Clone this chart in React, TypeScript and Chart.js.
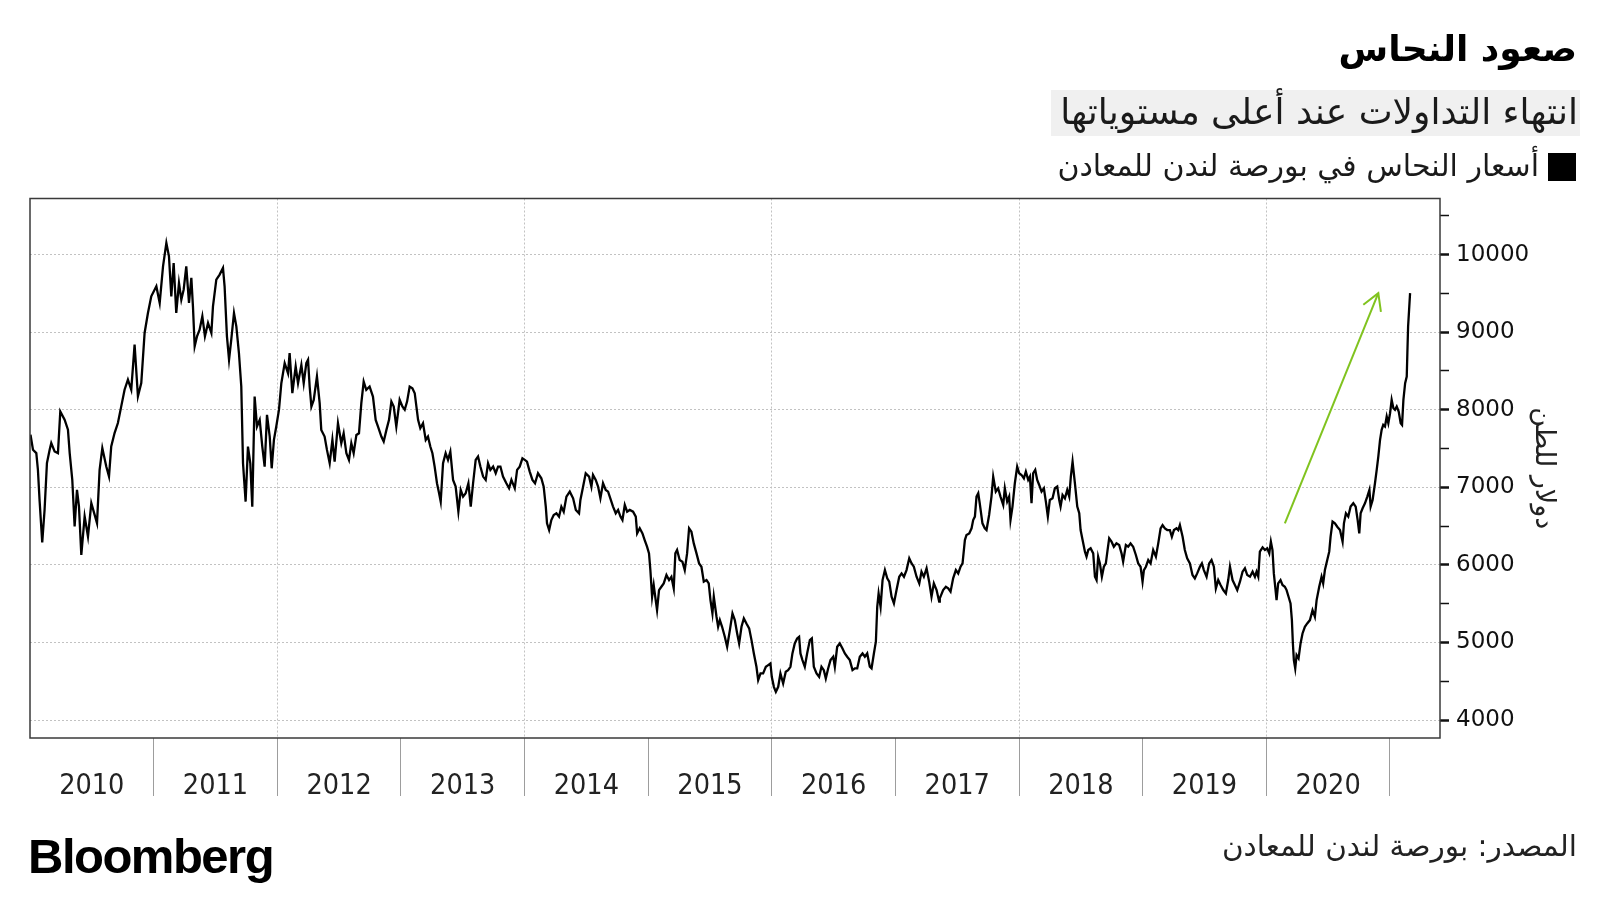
import React, { useEffect, useRef } from 'react';
import { Chart, registerables } from 'chart.js';

Chart.register(...registerables);

// ---- Data (LME copper, USD per tonne), x in decimal years ----
const dates = [
  2010.004, 2010.024, 2010.051, 2010.064, 2010.078, 2010.099, 2010.118, 2010.137, 2010.159, 2010.172,
  2010.199, 2010.226, 2010.245, 2010.280, 2010.307, 2010.321, 2010.342, 2010.361, 2010.380, 2010.396,
  2010.415, 2010.442, 2010.469, 2010.496, 2010.523, 2010.542, 2010.563, 2010.585, 2010.617, 2010.639,
  2010.657, 2010.684, 2010.711, 2010.738, 2010.765, 2010.792, 2010.819, 2010.846, 2010.873, 2010.900,
  2010.927, 2010.954, 2010.981, 2011.022, 2011.049, 2011.076, 2011.103, 2011.124, 2011.143, 2011.162,
  2011.183, 2011.205, 2011.224, 2011.243, 2011.264, 2011.286, 2011.305, 2011.318, 2011.332, 2011.351,
  2011.372, 2011.394, 2011.415, 2011.440, 2011.467, 2011.480, 2011.507, 2011.534, 2011.561, 2011.574,
  2011.593, 2011.610, 2011.628, 2011.650, 2011.669, 2011.690,
  2011.709, 2011.723, 2011.744, 2011.763, 2011.782, 2011.798, 2011.817, 2011.836, 2011.858, 2011.879,
  2011.898, 2011.917, 2011.939, 2011.955, 2011.973, 2011.992, 2012.014, 2012.033, 2012.060, 2012.087,
  2012.100, 2012.122, 2012.149, 2012.168, 2012.195, 2012.214, 2012.235, 2012.249, 2012.262, 2012.276,
  2012.295, 2012.321, 2012.343, 2012.356, 2012.383, 2012.402, 2012.424, 2012.446, 2012.464, 2012.491,
  2012.518, 2012.537, 2012.559, 2012.580, 2012.599, 2012.618, 2012.640, 2012.661, 2012.680, 2012.699,
  2012.720, 2012.747, 2012.774, 2012.796, 2012.815, 2012.842, 2012.861, 2012.883, 2012.904, 2012.923,
  2012.942, 2012.963, 2012.990, 2013.012, 2013.031, 2013.050, 2013.071, 2013.093, 2013.112, 2013.139,
  2013.157, 2013.179, 2013.201, 2013.219, 2013.238, 2013.255, 2013.273, 2013.292, 2013.309, 2013.322,
  2013.341, 2013.362, 2013.381, 2013.400, 2013.422, 2013.443, 2013.465, 2013.484, 2013.503, 2013.524,
  2013.546, 2013.565, 2013.584, 2013.605, 2013.624, 2013.643, 2013.665, 2013.686, 2013.705, 2013.724,
  2013.746, 2013.767, 2013.786, 2013.805, 2013.826, 2013.853, 2013.875, 2013.894, 2013.921, 2013.940,
  2013.961, 2013.983, 2014.002, 2014.020, 2014.042, 2014.064, 2014.085, 2014.109, 2014.136, 2014.155,
  2014.172, 2014.182, 2014.199, 2014.217, 2014.236, 2014.258, 2014.279, 2014.298, 2014.317, 2014.339,
  2014.366, 2014.393, 2014.415, 2014.441,
  2014.452, 2014.474, 2014.495, 2014.522, 2014.541, 2014.554, 2014.576, 2014.595, 2014.614, 2014.635,
  2014.657, 2014.676, 2014.694, 2014.716, 2014.738, 2014.757, 2014.776, 2014.792, 2014.811, 2014.830,
  2014.851, 2014.878, 2014.900, 2014.911, 2014.932, 2014.954, 2014.972, 2014.991, 2015.007, 2015.018,
  2015.032, 2015.045, 2015.061, 2015.072, 2015.088, 2015.107, 2015.126, 2015.148, 2015.169, 2015.188,
  2015.207, 2015.220, 2015.234, 2015.255, 2015.277, 2015.296, 2015.315, 2015.331, 2015.350, 2015.369,
  2015.391, 2015.412, 2015.431, 2015.450, 2015.472, 2015.490, 2015.504, 2015.520, 2015.531, 2015.553,
  2015.566, 2015.580, 2015.598, 2015.620, 2015.639, 2015.661, 2015.682, 2015.701, 2015.720, 2015.736,
  2015.755, 2015.774, 2015.795, 2015.817, 2015.836, 2015.855, 2015.876, 2015.890, 2015.909, 2015.930,
  2015.952, 2015.971, 2015.989, 2016.000, 2016.017, 2016.033, 2016.052, 2016.070, 2016.092, 2016.113,
  2016.132, 2016.151, 2016.167, 2016.186, 2016.205, 2016.221, 2016.232, 2016.248, 2016.267, 2016.286,
  2016.308, 2016.324, 2016.340, 2016.362, 2016.383, 2016.402, 2016.421, 2016.437, 2016.456, 2016.475,
  2016.497, 2016.510, 2016.529, 2016.550, 2016.572, 2016.591, 2016.610, 2016.631, 2016.653, 2016.672,
  2016.691, 2016.712, 2016.734, 2016.753, 2016.772, 2016.793, 2016.807, 2016.826, 2016.842, 2016.853,
  2016.864, 2016.880, 2016.896, 2016.915, 2016.934, 2016.950, 2016.969, 2016.988, 2017.009, 2017.031,
  2017.050, 2017.069, 2017.090, 2017.112, 2017.131, 2017.149, 2017.171, 2017.193, 2017.211, 2017.230,
  2017.252, 2017.273, 2017.292, 2017.311, 2017.333, 2017.354,
  2017.359, 2017.386, 2017.408, 2017.427, 2017.446, 2017.467, 2017.489, 2017.508, 2017.527, 2017.543,
  2017.562, 2017.575, 2017.597, 2017.616, 2017.629, 2017.643, 2017.656, 2017.670, 2017.682, 2017.704,
  2017.723, 2017.737, 2017.758, 2017.777, 2017.791, 2017.812, 2017.831, 2017.850, 2017.872, 2017.885,
  2017.904, 2017.920, 2017.931, 2017.947, 2017.966, 2017.985, 2018.001, 2018.020, 2018.039, 2018.055,
  2018.074, 2018.088, 2018.101, 2018.114, 2018.131, 2018.147, 2018.163, 2018.182, 2018.201, 2018.217,
  2018.233, 2018.249, 2018.271, 2018.290, 2018.309, 2018.325, 2018.336, 2018.352, 2018.371, 2018.390,
  2018.406, 2018.419, 2018.433, 2018.452, 2018.471, 2018.487, 2018.498, 2018.514, 2018.533, 2018.546,
  2018.560, 2018.579, 2018.600, 2018.614, 2018.627, 2018.640, 2018.654, 2018.670, 2018.686, 2018.702,
  2018.716, 2018.729, 2018.748, 2018.767, 2018.788, 2018.810, 2018.829, 2018.842, 2018.864, 2018.883,
  2018.902, 2018.923, 2018.945, 2018.964, 2018.983, 2018.999, 2019.010, 2019.026, 2019.045, 2019.064,
  2019.085, 2019.107, 2019.126, 2019.145, 2019.161, 2019.180, 2019.199, 2019.220, 2019.236, 2019.253,
  2019.274, 2019.288, 2019.301, 2019.323, 2019.341, 2019.360, 2019.382, 2019.403, 2019.422, 2019.441,
  2019.463, 2019.479, 2019.495, 2019.517, 2019.538, 2019.557, 2019.576, 2019.592, 2019.611,
  2019.630, 2019.652, 2019.673, 2019.692, 2019.706, 2019.727, 2019.746, 2019.765, 2019.787, 2019.808,
  2019.827, 2019.846, 2019.868, 2019.889, 2019.908, 2019.921, 2019.935, 2019.948, 2019.970, 2019.989,
  2020.007, 2020.024, 2020.037, 2020.050, 2020.061, 2020.072, 2020.083, 2020.096, 2020.115, 2020.131,
  2020.150, 2020.164, 2020.180, 2020.196, 2020.207, 2020.215, 2020.223, 2020.234, 2020.245, 2020.261,
  2020.277, 2020.293, 2020.312, 2020.331, 2020.353, 2020.374, 2020.393, 2020.407, 2020.428, 2020.447,
  2020.460, 2020.474, 2020.493, 2020.509, 2020.520, 2020.536, 2020.555, 2020.574, 2020.596, 2020.617,
  2020.628, 2020.644, 2020.663, 2020.682, 2020.704, 2020.723, 2020.739, 2020.752, 2020.763, 2020.779,
  2020.798, 2020.817, 2020.834, 2020.844, 2020.860, 2020.879, 2020.893, 2020.906, 2020.920, 2020.933,
  2020.946, 2020.960, 2020.974, 2020.987, 2021.001, 2021.014, 2021.028, 2021.041, 2021.055, 2021.071,
  2021.087, 2021.098, 2021.109, 2021.123, 2021.136, 2021.141, 2021.147, 2021.155, 2021.163,
];

const prices = [
  7677, 7484, 7441, 7226, 6817, 6288, 6710, 7312, 7484, 7570,
  7462, 7441, 7978, 7871, 7742, 7441, 7097, 6495, 6968, 6753,
  6129, 6624, 6366, 6796, 6645, 6538, 7226, 7505, 7269, 7140,
  7527, 7699, 7828, 8043, 8258, 8387, 8258, 8839, 8172, 8344,
  8989, 9247, 9462, 9591, 9376, 9849, 10150, 9978, 9462, 9892,
  9247, 9634, 9419, 9548, 9849, 9376, 9699, 9333, 8817, 8946,
  9032, 9204, 8946, 9118, 8989, 9333, 9677, 9742, 9828, 9591,
  8946, 8645, 8903, 9247, 9075, 8731,
  8299, 7310, 6815, 7525, 7310, 6750, 8170, 7783, 7869, 7525,
  7267, 7933, 7654, 7245, 7611, 7783, 8000, 8342, 8600, 8471,
  8729, 8213, 8557, 8342, 8578, 8342, 8600, 8643, 8299, 8041,
  8127, 8428, 8084, 7740, 7654, 7482, 7310, 7611, 7331, 7826,
  7568, 7697, 7439, 7353, 7568, 7439, 7675, 7697, 8084, 8363,
  8256, 8299, 8170, 7869, 7783, 7654, 7589, 7740, 7869, 8105,
  8041, 7783, 8127, 8041, 8000, 8105, 8299, 8277, 8213, 7869,
  7761, 7826, 7611, 7654, 7525, 7439, 7267, 7052, 6923, 6815,
  7310, 7439, 7353, 7460, 7095, 7009, 6686, 6966, 6880, 6923,
  7052, 6750, 7052, 7353, 7396, 7267, 7138, 7095, 7310, 7224,
  7267, 7181, 7267, 7267, 7138, 7052, 6987, 7095, 6987, 7224,
  7267, 7374, 7353, 7331, 7202, 7095, 7052, 7181, 7116, 7009,
  6750, 6535, 6449, 6578, 6643, 6664, 6621, 6750, 6686, 6880,
  6944, 6858, 6708, 6664,
  6837, 7009, 7181, 7138, 7009, 7159, 7095, 7009, 6858, 7052,
  6966, 6944, 6858, 6751, 6665, 6708, 6622, 6578, 6772, 6686,
  6708, 6686, 6622, 6406, 6471, 6406, 6320, 6234, 6148, 5933,
  5589, 5740, 5546, 5417, 5675, 5718, 5761, 5869, 5804, 5847,
  5697, 6148, 6191, 6062, 6041, 5933, 6148, 6471, 6428, 6277,
  6148, 6019, 5976, 5783, 5804, 5761, 5546, 5374, 5589, 5331,
  5202, 5288, 5202, 5073, 4944, 5159, 5374, 5288, 5116, 4987,
  5202, 5310, 5245, 5181, 5030, 4858, 4686, 4514, 4600, 4600,
  4686, 4708, 4729, 4557, 4428, 4363, 4428, 4600, 4471, 4622,
  4643, 4686, 4858, 4987, 5052, 5073, 4858, 4772, 4686, 4858,
  5030, 5052, 4686, 4600, 4557, 4686, 4643, 4536, 4665, 4772,
  4815, 4686, 4944, 4987, 4923, 4858, 4815, 4772, 4643, 4665,
  4665, 4815, 4858, 4815, 4858, 4686, 4665, 4858, 5009, 5460,
  5632, 5460, 5804, 5933, 5826, 5783, 5589, 5503, 5675, 5847,
  5890, 5847, 5933, 6084, 6019, 5976, 5847, 5761, 5912, 5847,
  5955, 5783, 5589, 5761, 5675, 5525,
  5568, 5675, 5718, 5697, 5654, 5826, 5933, 5890, 5976, 6019,
  6320, 6385, 6406, 6471, 6578, 6622, 6880, 6923, 6794, 6535,
  6471, 6449, 6643, 6880, 7138, 6944, 6987, 6880, 6772, 6987,
  6815, 6880, 6578, 6751, 7052, 7267, 7181, 7159, 7116, 7202,
  7095, 7138, 6794, 7181, 7224, 7095, 7030, 6944, 6987, 6815,
  6622, 6837, 6858, 6987, 7009, 6837, 6751, 6901, 6858, 6966,
  6880, 7138, 7331, 7052, 6751, 6665, 6449, 6320, 6170, 6105,
  6191, 6213, 6148, 5847, 5804, 6105, 6019, 5847, 5976, 6019,
  6191, 6342, 6299, 6234, 6277, 6256, 6148, 6041, 6256, 6234,
  6277, 6234, 6127, 6019, 5976, 5783, 5933, 5976, 6062, 6019,
  6191, 6105, 6277, 6471, 6514, 6471, 6449, 6449, 6363, 6449,
  6471, 6449, 6514, 6363, 6191, 6084, 6019, 5869, 5826, 5890,
  5976, 6019, 5933, 5847, 6019, 6062, 5976, 5697, 5804,
  5740, 5675, 5632, 5804, 5976, 5804, 5740, 5675, 5783, 5912,
  5955, 5869, 5847, 5912, 5847, 5912, 5847, 6170, 6226, 6191,
  6213, 6148, 6299, 6191, 5890, 5718, 5546, 5761, 5804, 5740,
  5718, 5675, 5589, 5503, 5288, 4987, 4772, 4664, 4837, 4794,
  4987, 5116, 5202, 5245, 5288, 5417, 5331, 5546, 5718, 5847,
  5761, 5933, 6062, 6170, 6363, 6557, 6535, 6492, 6449, 6299,
  6535, 6664, 6622, 6751, 6794, 6751, 6578, 6406, 6664, 6729,
  6794, 6880, 6966, 6751, 6837, 7052, 7224, 7396, 7611, 7740,
  7804, 7783, 7912, 7826, 7955, 8127, 8019, 7998, 8041, 7976,
  7826, 7804, 8127, 8342, 8428, 8729, 9073, 9288, 9503,
];

const yearLabels = ['2010', '2011', '2012', '2013', '2014', '2015', '2016', '2017', '2018', '2019', '2020'];
const separatorYears = [2011, 2012, 2013, 2014, 2015, 2016, 2017, 2018, 2019, 2020, 2021];
const gridYears = [2012, 2014, 2016, 2018, 2020];
const yTickValues = [4000, 4500, 5000, 5500, 6000, 6500, 7000, 7500, 8000, 8500, 9000, 9500, 10000, 10500];

const arrowDates = [2020.150, 2020.906];
const arrowPrices = [6535, 9503];

const X_MIN = 2010;
const X_MAX = 2021.405;
const Y_MIN = 3768;
const Y_MAX = 10723;

const TITLE = 'صعود النحاس';
const SUBTITLE = 'انتهاء التداولات عند أعلى مستوياتها';
const LEGEND = 'أسعار النحاس في بورصة لندن للمعادن';
const SOURCE = 'المصدر: بورصة لندن للمعادن';
const Y_TITLE = 'دولار للطن';

const ARROW_COLOR = '#80c31f';
const ARABIC_FONT = "'DejaVu Sans', 'Noto Sans', sans-serif";
const TRANSPARENT = 'rgba(0,0,0,0)';

const framePlugin = {
  id: 'frame',
  afterDatasetsDraw(chart: any) {
    const { ctx, chartArea } = chart;
    ctx.save();
    ctx.strokeStyle = '#3a3a3a';
    ctx.lineWidth = 1.5;
    ctx.strokeRect(chartArea.left, chartArea.top, chartArea.right - chartArea.left, chartArea.bottom - chartArea.top);
    ctx.restore();
  },
};

const arrowHeadPlugin = {
  id: 'arrowHead',
  afterDatasetsDraw(chart: any) {
    const meta = chart.getDatasetMeta(1);
    const pts = meta && meta.data;
    if (!pts || pts.length < 2) return;
    const a = pts[pts.length - 2];
    const b = pts[pts.length - 1];
    const ang = Math.atan2(b.y - a.y, b.x - a.x);
    const len = 19;
    const spread = Math.PI / 6;
    const ctx = chart.ctx;
    ctx.save();
    ctx.strokeStyle = ARROW_COLOR;
    ctx.lineWidth = 2;
    ctx.lineJoin = 'miter';
    ctx.beginPath();
    ctx.moveTo(b.x - len * Math.cos(ang - spread), b.y - len * Math.sin(ang - spread));
    ctx.lineTo(b.x, b.y);
    ctx.lineTo(b.x - len * Math.cos(ang + spread), b.y - len * Math.sin(ang + spread));
    ctx.stroke();
    ctx.restore();
  },
};

function ChartCanvas() {
  const ref = useRef<HTMLCanvasElement | null>(null);

  useEffect(() => {
    if (!ref.current) return;
    const series = dates.map((d, i) => ({ x: d, y: prices[i] }));
    const arrow = arrowDates.map((d, i) => ({ x: d, y: arrowPrices[i] }));
    const chart = new Chart(ref.current, {
      type: 'line',
      data: {
        datasets: [
          {
            data: series,
            borderColor: '#000000',
            borderWidth: 2.3,
            pointRadius: 0,
            tension: 0,
            fill: false,
          },
          {
            data: arrow,
            borderColor: ARROW_COLOR,
            borderWidth: 2,
            pointRadius: 0,
            tension: 0,
            fill: false,
          },
        ],
      },
      options: {
        animation: false,
        responsive: false,
        maintainAspectRatio: false,
        devicePixelRatio: 1,
        parsing: false as any,
        layout: { padding: { left: 30, top: 198.5, right: 0, bottom: 0 } },
        plugins: {
          legend: { display: false },
          tooltip: { enabled: false },
          title: { display: false },
        },
        scales: {
          x: {
            type: 'linear',
            position: 'bottom',
            min: X_MIN,
            max: X_MAX,
            afterBuildTicks: (scale: any) => {
              const ticks: any[] = [];
              for (let y = 2010; y <= 2021; y++) {
                ticks.push({ value: y });
                if (y < 2021) ticks.push({ value: y + 0.5 });
              }
              scale.ticks = ticks;
            },
            afterFit: (scale: any) => {
              scale.height = 162;
            },
            grid: {
              color: (c: any) => (c.tick && gridYears.includes(c.tick.value) ? '#c2c2c2' : TRANSPARENT),
              tickColor: (c: any) => (c.tick && separatorYears.includes(c.tick.value) ? '#9d9d9d' : TRANSPARENT),
              lineWidth: 1,
              tickWidth: 1,
              tickLength: 58,
              tickBorderDash: [],
            },
            border: { display: false, dash: [2, 2] },
            ticks: {
              autoSkip: false,
              maxRotation: 0,
              minRotation: 0,
              padding: -27,
              color: '#222222',
              font: { family: "'DejaVu Sans Condensed', sans-serif", size: 28.5 },
              callback: (value: any) => {
                const v = Number(value);
                const idx = Math.round(v - 0.5) - 2010;
                if (Math.abs(v - Math.floor(v) - 0.5) < 1e-6 && idx >= 0 && idx < yearLabels.length) {
                  return yearLabels[idx];
                }
                return '';
              },
            },
          },
          y: {
            type: 'linear',
            position: 'right',
            min: Y_MIN,
            max: Y_MAX,
            afterBuildTicks: (scale: any) => {
              scale.ticks = yTickValues.map((v) => ({ value: v }));
            },
            afterFit: (scale: any) => {
              scale.width = 160;
            },
            grid: {
              color: (c: any) => (c.tick && c.tick.value % 1000 === 0 ? '#c2c2c2' : TRANSPARENT),
              tickColor: '#111111',
              lineWidth: 1,
              tickWidth: (c: any) => (c.tick && c.tick.value % 1000 === 0 ? 2.5 : 1.5),
              tickLength: 9,
              tickBorderDash: [],
            },
            border: { display: false, dash: [2, 2] },
            ticks: {
              autoSkip: false,
              padding: 7,
              color: '#111111',
              font: { family: "'DejaVu Sans', sans-serif", size: 23 },
              callback: (value: any) => (Number(value) % 1000 === 0 ? String(value) : ''),
            },
            title: {
              display: true,
              text: Y_TITLE,
              color: '#222222',
              font: { family: ARABIC_FONT, size: 27 },
              padding: { top: 41, bottom: 0 },
            },
          },
        },
      },
      plugins: [framePlugin, arrowHeadPlugin],
    } as any);
    return () => chart.destroy();
  }, []);

  return <canvas ref={ref} width={1600} height={900} style={{ position: 'absolute', left: 0, top: 0, width: 1600, height: 900 }} />;
}

export default function App() {
  const textBase: React.CSSProperties = {
    position: 'absolute',
    direction: 'rtl',
    whiteSpace: 'nowrap',
    fontFamily: ARABIC_FONT,
    lineHeight: 1,
    color: '#111',
  };
  return (
    <div style={{ position: 'fixed', left: 0, top: 0, width: 1600, height: 900, background: '#ffffff', overflow: 'hidden' }}>
      <ChartCanvas />
      <div style={{ ...textBase, right: 23, top: 31, fontSize: 36, fontWeight: 700, color: '#000' }}>{TITLE}</div>
      <div style={{ position: 'absolute', left: 1051, top: 90, width: 529, height: 46, background: '#f0f0f0' }} />
      <div style={{ ...textBase, right: 22, top: 94, fontSize: 36, color: '#1a1a1a' }}>{SUBTITLE}</div>
      <div style={{ position: 'absolute', left: 1548, top: 153, width: 28, height: 28, background: '#000' }} />
      <div style={{ ...textBase, right: 61, top: 151, fontSize: 30, color: '#1a1a1a' }}>{LEGEND}</div>
      <div style={{ ...textBase, right: 23, top: 832, fontSize: 29.5, color: '#222' }}>{SOURCE}</div>
      <div
        style={{
          position: 'absolute',
          left: 28,
          top: 832,
          fontFamily: "'Liberation Sans', Arial, sans-serif",
          fontWeight: 700,
          fontSize: 49,
          letterSpacing: -1.5,
          lineHeight: 1,
          color: '#000',
        }}
      >
        Bloomberg
      </div>
    </div>
  );
}
